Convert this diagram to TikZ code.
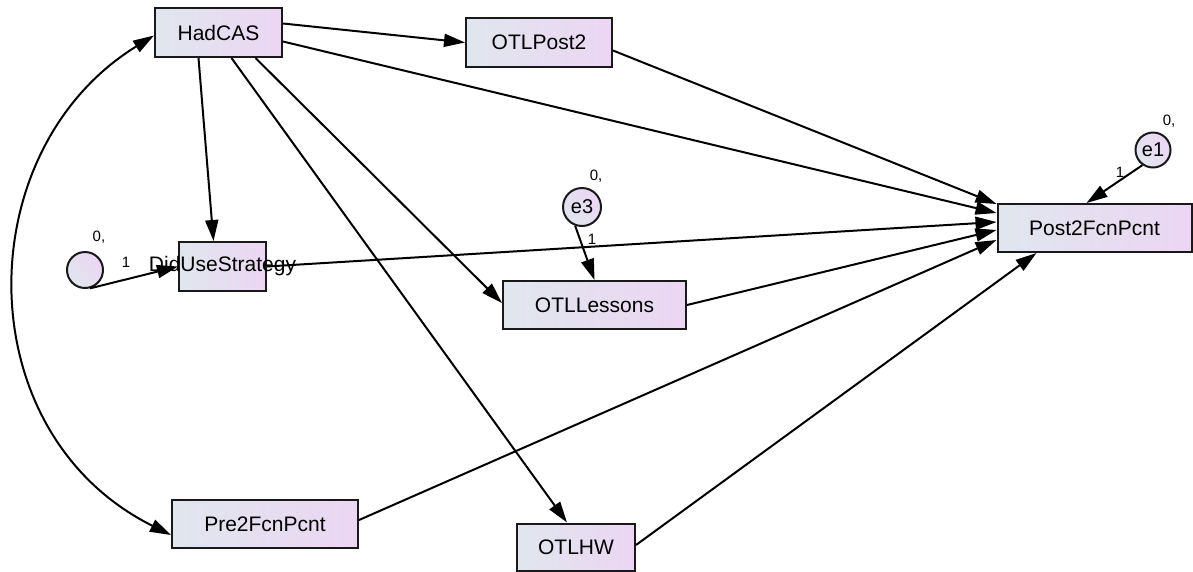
\documentclass[tikz,border=0pt]{standalone}
\usepackage{fontspec}
\setmainfont{Liberation Sans}
\usetikzlibrary{arrows.meta,calc}
\definecolor{boxL}{RGB}{224,230,238}
\definecolor{boxR}{RGB}{236,214,243}
\definecolor{edgeC}{RGB}{25,25,25}
\begin{document}
\begin{tikzpicture}[x=1pt,y=-1pt,
  obs/.style={rectangle, draw=edgeC, line width=2pt, left color=boxL, right color=boxR,
    inner sep=0pt, font=\fontsize{21}{24}\selectfont},
  err/.style={circle, draw=edgeC, line width=2pt, left color=boxL, right color=boxR,
    shading angle=135, inner sep=0pt, font=\fontsize{20}{22}\selectfont},
  link/.style={line width=2pt, -{Triangle[length=21pt,width=13pt]}},
  cov/.style={line width=2pt, {Triangle[length=21pt,width=13pt]}-{Triangle[length=21pt,width=13pt]}},
  tag/.style={inner sep=0pt, font=\fontsize{15}{17}\selectfont}]
\useasboundingbox (0,0) rectangle (1193,571);

% observed variables
\node[obs, minimum width=127pt, minimum height=49pt] (had)  at (218.5,32.5) {HadCAS};
\node[obs, minimum width=146pt, minimum height=49pt] (post) at (539,42.5) {OTLPost2};
\node[obs, minimum width=194pt, minimum height=48pt] (out)  at (1094.5,228) {Post2FcnPcnt};
\node[obs, minimum width=87pt,  minimum height=49pt] (did)  at (222.5,266.5) {\makebox[0pt]{DidUseStrategy}};
\node[obs, minimum width=183pt, minimum height=48pt] (les)  at (594.5,305) {OTLLessons};
\node[obs, minimum width=186pt, minimum height=48pt] (pre)  at (265,524) {Pre2FcnPcnt};
\node[obs, minimum width=118pt, minimum height=47pt] (hw)   at (576,547) {OTLHW};

% error terms
\node[err, minimum size=35pt] (e1) at (1153,150) {e1};
\node[err, minimum size=38pt] (e3) at (582,207) {e3};
\node[err, minimum size=36pt] (e0) at (85,270) {};

% parameter labels
\node[tag] (e1v) at (1169,121) {0,};
\node[tag] (e1w) at (1120,172) {1};
\node[tag] (e3v) at (596,176) {0,};
\node[tag] (e3w) at (592,239) {1};
\node[tag] (e0v) at (99,237) {0,};
\node[tag] (e0w) at (126,262) {1};

% regression paths
\draw[link] ($(had.east)+(0,-9)$) -- (post.west);
\draw[link] ($(had.east)+(0,9)$) -- ($(out.west)+(0,-15)$);
\draw[link] ($(post.east)+(0,8)$) -- ($(out.north west)+(0,1)$);
\draw[link] ($(had.south)+(-20,0)$) -- ($(did.north)+(-9,0)$);
\draw[link] ($(had.south)+(37,0)$) -- ($(les.west)+(0,-2)$);
\draw[link] ($(had.south)+(13,0)$) -- ($(hw.north)+(-9,0)$);
\draw[link] (did.east) -- ($(out.west)+(0,-6)$);
\draw[link] (les.east) -- ($(out.west)+(0,2)$);
\draw[link] ($(pre.east)+(0,-4)$) -- ($(out.west)+(0,12)$);
\draw[link] ($(hw.east)+(0,-2)$) -- ($(out.south west)+(40,0)$);
\draw[link] (e1.235) -- ($(out.north)+(-8,0)$);
\draw[link] (e3.250) -- (les.north);
\draw[link] (e0.285) -- (did.west);

% covariance
\draw[cov] ($(had.west)+(0,3)$) .. controls (-32,150) and (-34,433) .. ($(pre.west)+(0,11)$);
\end{tikzpicture}
\end{document}
